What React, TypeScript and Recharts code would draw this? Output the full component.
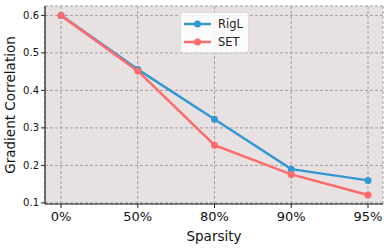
import { CartesianGrid, Line, LineChart, XAxis, YAxis } from "recharts";

document.body.style.margin = "0";

const sparsity = ["0%", "50%", "80%", "90%", "95%"];
const rigl = [0.6, 0.456, 0.323, 0.19, 0.16];
const set = [0.6, 0.452, 0.254, 0.176, 0.121];
const yTicks = [0.1, 0.2, 0.3, 0.4, 0.5, 0.6];

const BLUE = "#3498d3";
const RED = "#ff6b6b";
const FONT = "DejaVu Sans, sans-serif";

const data = sparsity.map((s, i) => ({ sparsity: s, RigL: rigl[i], SET: set[i] }));

function LegendBox() {
  const items = [
    { name: "RigL", color: BLUE },
    { name: "SET", color: RED },
  ];
  return (
    <div
      style={{
        position: "absolute",
        left: 180,
        top: 12,
        background: "rgba(255,255,255,0.85)",
        border: "1px solid #ddd",
        borderRadius: 3,
        width: 69,
        height: 41,
        boxSizing: "border-box",
        fontFamily: FONT,
        fontSize: 11.5,
        color: "#222",
        paddingTop: 2,
      }}
    >
      {items.map((it) => (
        <div key={it.name} style={{ display: "flex", alignItems: "center", height: 18 }}>
          <svg width={35} height={10} style={{ marginLeft: 2 }}>
            <line x1={1} y1={5} x2={28} y2={5} stroke={it.color} strokeWidth={2.5} />
            <circle cx={14.5} cy={5} r={3.5} fill={it.color} />
          </svg>
          <span>{it.name}</span>
        </div>
      ))}
    </div>
  );
}

function YLabel(props: any) {
  const vb = props.viewBox || { y: 6, height: 198 };
  const cy = vb.y + vb.height / 2;
  return (
    <text
      x={15}
      y={cy}
      transform={`rotate(-90, 15, ${cy})`}
      textAnchor="middle"
      fontFamily={FONT}
      fontSize={13.5}
      fill="#111"
    >
      Gradient Correlation
    </text>
  );
}

export default function App() {
  return (
    <div style={{ position: "relative", width: 390, height: 249, background: "#fff" }}>
      <LineChart width={390} height={249} data={data} margin={{ top: 6, right: 7, left: 0, bottom: 0 }}>
        <CartesianGrid fill="#e8e1e1" fillOpacity={1} stroke="#a0a0a0" strokeDasharray="3 2" />
        <XAxis
          dataKey="sparsity"
          height={45}
          padding={{ left: 16, right: 15 }}
          tick={{ fontFamily: FONT, fontSize: 13, fill: "#111", dy: 2 }}
          tickSize={4}
          tickLine={{ stroke: "#222" }}
          axisLine={{ stroke: "#222", strokeWidth: 1.2 }}
          label={{ value: "Sparsity", position: "insideBottom", offset: 8, fontFamily: FONT, fontSize: 13.5, fill: "#111" }}
        />
        <XAxis xAxisId="top" orientation="top" dataKey="sparsity" height={0} tick={false} tickLine={false} axisLine={{ stroke: "#222", strokeWidth: 1.2 }} />
        <YAxis
          width={45}
          domain={[0.097, 0.625]}
          ticks={yTicks}
          tickFormatter={(v: number) => v.toFixed(1)}
          tick={{ fontFamily: FONT, fontSize: 10, fill: "#111" }}
          tickSize={4}
          tickLine={{ stroke: "#222" }}
          axisLine={{ stroke: "#222", strokeWidth: 1.2 }}
          label={<YLabel />}
        />
        <YAxis yAxisId="right" orientation="right" width={0} tick={false} tickLine={false} axisLine={{ stroke: "#222", strokeWidth: 1.2 }} />
        <Line dataKey="RigL" stroke={BLUE} strokeWidth={2.5} dot={{ r: 3.5, fill: BLUE, stroke: BLUE, strokeWidth: 0 }} isAnimationActive={false} />
        <Line dataKey="SET" stroke={RED} strokeWidth={2.5} dot={{ r: 3.5, fill: RED, stroke: RED, strokeWidth: 0 }} isAnimationActive={false} />
      </LineChart>
      <LegendBox />
    </div>
  );
}
